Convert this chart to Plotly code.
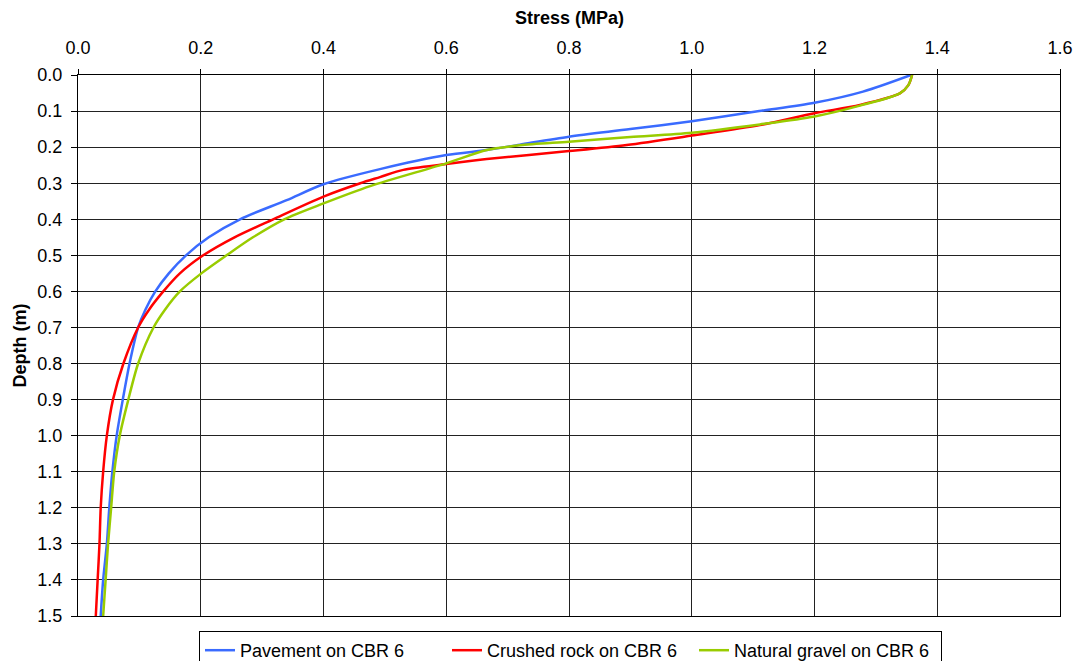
import plotly.graph_objects as go

# Pavement on CBR 6
pav_depth = [0.0, 0.046, 0.077, 0.10, 0.128, 0.150, 0.171, 0.193, 0.208, 0.222, 0.261, 0.303, 0.347, 0.40, 0.45, 0.5, 0.55, 0.6, 0.65, 0.7, 0.8, 0.9, 1.0, 1.1, 1.2, 1.3, 1.4, 1.5]
pav_stress = [1.357, 1.279, 1.20, 1.11, 1.00, 0.90, 0.80, 0.72, 0.666, 0.60, 0.492, 0.40, 0.34, 0.264, 0.213, 0.176, 0.148, 0.126, 0.110, 0.098, 0.084, 0.073, 0.063, 0.056, 0.051, 0.047, 0.041, 0.037]

# Crushed rock on CBR 6
cr_depth = [0.0, 0.028, 0.051, 0.083, 0.106, 0.139, 0.168, 0.194, 0.211, 0.233, 0.247, 0.263, 0.283, 0.300, 0.337, 0.40, 0.45, 0.5, 0.55, 0.6, 0.65, 0.7, 0.8, 0.9, 1.0, 1.1, 1.2, 1.3, 1.4, 1.5]
cr_stress = [1.359, 1.353, 1.339, 1.274, 1.20, 1.111, 1.00, 0.894, 0.80, 0.666, 0.60, 0.53, 0.492, 0.46, 0.40, 0.318, 0.255, 0.204, 0.166, 0.139, 0.116, 0.098, 0.074, 0.057, 0.047, 0.041, 0.037, 0.035, 0.032, 0.029]

# Natural gravel on CBR 6
ng_depth = [0.0, 0.028, 0.051, 0.085, 0.115, 0.137, 0.160, 0.172, 0.185, 0.195, 0.208, 0.245, 0.308, 0.356, 0.40, 0.45, 0.5, 0.55, 0.6, 0.65, 0.7, 0.8, 0.9, 1.0, 1.1, 1.2, 1.3, 1.4, 1.5]
ng_stress = [1.359, 1.353, 1.339, 1.274, 1.20, 1.111, 1.00, 0.90, 0.80, 0.72, 0.666, 0.60, 0.476, 0.40, 0.336, 0.285, 0.242, 0.201, 0.166, 0.142, 0.123, 0.098, 0.082, 0.068, 0.059, 0.054, 0.049, 0.045, 0.041]

series_names = ["Pavement on CBR 6", "Crushed rock on CBR 6", "Natural gravel on CBR 6"]
series_colors = ["#3A6BFF", "#FF0000", "#99CC00"]

x_ticks = [0.0, 0.2, 0.4, 0.6, 0.8, 1.0, 1.2, 1.4, 1.6]
y_ticks = [round(i * 0.1, 1) for i in range(16)]

x_title = "Stress (MPa)"
y_title = "Depth (m)"

fig = go.Figure()
for name, color, xs, ys in zip(series_names, series_colors,
                               [pav_stress, cr_stress, ng_stress],
                               [pav_depth, cr_depth, ng_depth]):
    fig.add_trace(go.Scatter(x=xs, y=ys, mode="lines", name=name,
                             line=dict(color=color, width=2.5, shape="spline", smoothing=0.8)))

W, H = 1076, 661
ML, MR, MT, MB = 78, 16, 75, 45
plot_w = W - ML - MR
plot_h = H - MT - MB

font_family = "Liberation Sans, Arial, sans-serif"
fig.update_layout(
    width=W, height=H,
    margin=dict(l=ML, r=MR, t=MT, b=MB, autoexpand=False),
    paper_bgcolor="white", plot_bgcolor="white",
    font=dict(family=font_family, size=18, color="black"),
    showlegend=True,
    legend=dict(orientation="h", x=(199 - ML) / plot_w, xanchor="left",
                y=-(631 - (MT + plot_h)) / plot_h, yanchor="top",
                bordercolor="black", borderwidth=1, bgcolor="white",
                font=dict(size=18), entrywidth=202, entrywidthmode="pixels",
                tracegroupgap=0, itemwidth=30),
    xaxis=dict(side="top", range=[0, 1.6], tickvals=x_ticks, ticktext=[f"{v:.1f}" for v in x_ticks],
               showgrid=True, gridcolor="#222222", gridwidth=1,
               showline=True, linecolor="black", linewidth=1, mirror=True,
               ticks="outside", ticklen=5, tickcolor="black", ticklabelstandoff=8,
               zeroline=False, automargin=False),
    yaxis=dict(range=[1.5, 0], tickvals=y_ticks, ticktext=[f"{v:.1f}" for v in y_ticks],
               showgrid=True, gridcolor="#222222", gridwidth=1,
               showline=True, linecolor="black", linewidth=1, mirror=True,
               ticks="outside", ticklen=6, tickcolor="black", ticklabelstandoff=5,
               zeroline=False, automargin=False),
    annotations=[
        dict(text=f"<b>{x_title}</b>", x=0.5, y=1 + (MT - 18) / plot_h, xref="paper", yref="paper",
             yanchor="middle", xanchor="center", showarrow=False, font=dict(size=18)),
        dict(text=f"<b>{y_title}</b>", x=-(ML - 19) / plot_w, y=0.5, xref="paper", yref="paper",
             xanchor="center", yanchor="middle", textangle=-90, showarrow=False, font=dict(size=18)),
    ],
)

# remove the default page margin so the figure fills the window exactly
fig.write_html("out.html",
               config={"displayModeBar": False},
               post_script="document.body.style.margin='0';document.body.style.overflow='hidden';")
